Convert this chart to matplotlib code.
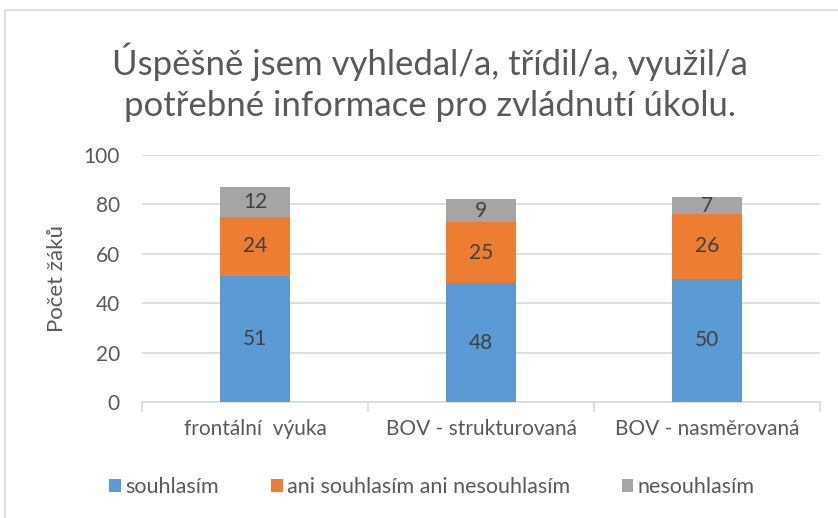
import numpy as np
import matplotlib.pyplot as plt
from matplotlib.patches import Rectangle

# data
categories = ['frontální  výuka', 'BOV - strukturovaná', 'BOV - nasměrovaná']
souhlasim = [51, 48, 50]
ani = [24, 25, 26]
nesouhlasim = [12, 9, 7]
series_names = ['souhlasím', 'ani souhlasím ani nesouhlasím', 'nesouhlasím']
yticks = [0, 20, 40, 60, 80, 100]

colors = ['#5B9BD5', '#ED7D31', '#A5A5A5']
txt = '#595959'

plt.rcParams['font.family'] = ['Lato', 'DejaVu Sans']

fig = plt.figure(figsize=(8.38, 5.18), dpi=100)
# chart border (cut off on the right / bottom like the original)
fig.patches.append(Rectangle((5 / 838, -0.02), 1.0, 1 - 10 / 518 + 0.02,
                             transform=fig.transFigure, fill=False,
                             edgecolor='#D9D9D9', linewidth=1.2))

ax = fig.add_axes([142 / 838, 1 - 402 / 518, (820 - 142) / 838, (402 - 155) / 518])

x = np.arange(len(categories))
w = 0.31
bottom = np.zeros(len(categories))
for vals, col, name in zip([souhlasim, ani, nesouhlasim], colors, series_names):
    bars = ax.bar(x, vals, w, bottom=bottom, color=col, label=name, zorder=3)
    for b, v, b0 in zip(bars, vals, bottom):
        ax.text(b.get_x() + b.get_width() / 2, b0 + v / 2, str(v),
                ha='center', va='center', fontsize=15, color='#404040', zorder=4)
    bottom = bottom + np.array(vals)

ax.set_xlim(-0.5, len(categories) - 0.5)
ax.set_ylim(0, 100)
ax.set_yticks(yticks)
ax.yaxis.grid(True, color='#D9D9D9', linewidth=1.2, zorder=0)
ax.set_axisbelow(True)
for s in ['top', 'right', 'left']:
    ax.spines[s].set_visible(False)
ax.spines['bottom'].set_color('#D9D9D9')
ax.spines['bottom'].set_linewidth(1.2)

ax.set_xticks(x)
ax.set_xticklabels(categories)
ax.set_xticks(np.arange(-0.5, len(categories)), minor=True)
ax.tick_params(axis='x', which='major', length=0, pad=12, labelsize=15, labelcolor=txt)
ax.tick_params(axis='x', which='minor', length=7, color='#D9D9D9', width=1.2)
ax.tick_params(axis='y', length=0, pad=16, labelsize=15, labelcolor=txt)

ax.set_ylabel('Počet žáků', fontsize=16, color=txt, labelpad=12)

fig.text(430 / 838, 1 - 82 / 518, 'Úspěšně jsem vyhledal/a, třídil/a, využil/a\npotřebné informace pro zvládnutí úkolu.',
         ha='center', va='center', fontsize=25, color=txt, linespacing=1.35)

fig.legend(loc='center', bbox_to_anchor=(432 / 838, 1 - 487 / 518), ncol=3,
           frameon=False, fontsize=15.5, handlelength=0.55, handleheight=0.55,
           handletextpad=0.2, columnspacing=2.4, labelcolor=txt)

fig.savefig('out.png', dpi=100)
